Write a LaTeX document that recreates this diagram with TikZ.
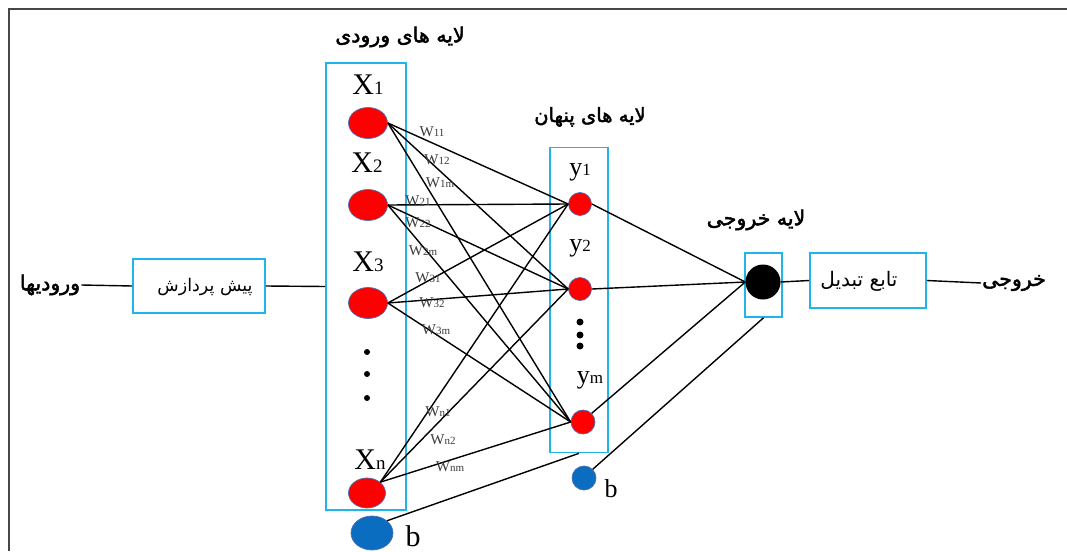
\documentclass[tikz,border=0pt]{standalone}
\usepackage{fontspec}
\setmainfont{Liberation Serif}
\newfontfamily\fa[Script=Arabic]{DejaVu Sans}
\newfontfamily\fab[Script=Arabic,FakeBold=2.2]{DejaVu Sans}
\TeXXeTstate=1
\usetikzlibrary{shapes.geometric}
\definecolor{boxcyan}{HTML}{1FB4EA}
\definecolor{nodered}{HTML}{FF0000}
\definecolor{nodeedge}{HTML}{4A6FB5}
\definecolor{biasblue}{HTML}{0A6DBF}
\definecolor{wgray}{HTML}{3C3C3C}
\begin{document}
\begin{tikzpicture}[x=1pt,y=-1pt,
  lbox/.style={draw=boxcyan, line width=1.6pt, rectangle, inner sep=0pt},
  innode/.style={ellipse, fill=nodered, draw=nodeedge, line width=0.7pt, minimum width=39pt, minimum height=31pt, inner sep=0pt},
  hidnode/.style={circle, fill=nodered, draw=nodeedge, line width=0.7pt, minimum size=23pt, inner sep=0pt},
  conn/.style={draw=black, line width=1.4pt},
  wlab/.style={text=wgray, inner sep=0pt},
  biglab/.style={inner sep=0pt},
  fahead/.style={inner sep=1pt, font=\fab\fontsize{20.5}{20.5}\selectfont},
  fatext/.style={inner sep=1pt, font=\fa\fontsize{17.5}{17.5}\selectfont},
  dotmark/.style={circle, fill=black, inner sep=0pt, minimum size=6pt}
]
\useasboundingbox (0,0) rectangle (1067,551);
\fill[white] (0,0) rectangle (1067,551);
% frame
\draw[line width=2.2pt, black!72] (9,551) -- (9,9) -- (1067,9);

% layer boxes
\node[lbox, minimum width=80pt, minimum height=447pt] (inbox) at (366,286.5) {};
\node[lbox, minimum width=58pt, minimum height=305pt] (hidbox) at (579,300) {};
\node[lbox, minimum width=37pt, minimum height=64pt] (outbox) at (763.5,285) {};
\node[lbox, minimum width=132pt, minimum height=54pt] (prebox) at (199,286) {};
\node[lbox, minimum width=116pt, minimum height=55pt] (tfbox) at (868,280.5) {};

% box texts
\node[fatext] (pretext) at (205,287) {\beginR پیش پردازش\endR};
\node[fatext, font=\fa\fontsize{20}{20}\selectfont] (tftext) at (859,281) {\beginR تابع تبدیل\endR};

% headings
\node[fahead] (hin) at (400,37) {\beginR لایه های ورودی\endR};
\node[fahead, font=\fab\fontsize{19.5}{19.5}\selectfont] (hhid) at (590,117) {\beginR لایه های پنهان\endR};
\node[fahead] (hout) at (756,220) {\beginR لایه خروجی\endR};
\node[fahead] (inlab) at (50,285) {\beginR ورودیها\endR};
\node[fahead] (outlab) at (1014,283) {\beginR خروجی\endR};

% input nodes
\node[innode] (x1) at (368,123) {};
\node[innode] (x2) at (368,205) {};
\node[innode] (x3) at (368,303) {};
\node[innode, minimum width=37pt, minimum height=30pt] (xn) at (367,493) {};
\node[ellipse, fill=biasblue, draw=nodeedge, line width=0.7pt, minimum width=42pt, minimum height=34pt, inner sep=0pt] (b1) at (372,533) {};

\node[biglab] (lx1) at (368,85) {\fontsize{30}{30}\selectfont X\fontsize{19}{19}\selectfont 1};
\node[biglab] (lx2) at (367,163) {\fontsize{30}{30}\selectfont X\fontsize{19}{19}\selectfont 2};
\node[biglab] (lx3) at (368,262) {\fontsize{30}{30}\selectfont X\fontsize{19}{19}\selectfont 3};
\node[biglab] (lxn) at (370,460) {\fontsize{30}{30}\selectfont X\fontsize{19}{19}\selectfont n};
\node[biglab, anchor=base] (lb1) at (413,546) {\fontsize{30}{30}\selectfont b};

\node[dotmark] (d1) at (367,352) {};
\node[dotmark] (d2) at (367,374) {};
\node[dotmark] (d3) at (367,398) {};

% hidden nodes
\node[hidnode] (h1) at (580,204) {};
\node[hidnode] (h2) at (580,289) {};
\node[hidnode, minimum size=24pt] (hm) at (583,422) {};
\node[circle, fill=biasblue, draw=nodeedge, line width=0.7pt, minimum size=24pt, inner sep=0pt] (b2) at (584,478) {};

\node[biglab] (ly1) at (580,172) {\fontsize{26}{26}\selectfont y\fontsize{17}{17}\selectfont 1};
\node[biglab] (ly2) at (580,248) {\fontsize{26}{26}\selectfont y\fontsize{17}{17}\selectfont 2};
\node[biglab] (lym) at (590,380) {\fontsize{26}{26}\selectfont y\fontsize{17}{17}\selectfont m};
\node[biglab] (lb2) at (611,489) {\fontsize{26}{26}\selectfont b};

\node[dotmark, minimum size=7pt] (e1) at (580,322) {};
\node[dotmark, minimum size=7pt] (e2) at (580,335) {};
\node[dotmark, minimum size=7pt] (e3) at (580,346) {};

% output node
\node[circle, fill=black, minimum size=35pt, inner sep=0pt] (out) at (763,282) {};

% connections input -> hidden
\foreach \j in {h1,h2,hm} {
  \draw[conn] (x1.east) -- (\j.west);
  \draw[conn] (x2.east) -- (\j.west);
  \draw[conn] (x3.east) -- (\j.west);
  \draw[conn] (xn.north east) -- (\j.west);
}
% hidden -> output
\draw[conn] (h1.east) -- (out.west);
\draw[conn] (h2.east) -- (out.west);
\draw[conn] (hm.north east) -- (out.west);
% biases
\draw[conn] (b1.north east) -- (hidbox.south);
\draw[conn] (b2.north east) -- (outbox.south);
% pipeline
\draw[conn] (inlab.east) -- (prebox.west);
\draw[conn] (prebox.east) -- (inbox.west);
\draw[conn] (out.east) -- (tfbox.west);
\draw[conn] (tfbox.east) -- (outlab.west);

% weight labels
\newcommand{\wl}[1]{{\fontsize{15}{15}\selectfont W}{\fontsize{11}{11}\selectfont #1}}
\node[wlab] (w11) at (432,132) {\wl{11}};
\node[wlab] (w12) at (437,160) {\wl{12}};
\node[wlab] (w1m) at (440,183) {\wl{1m}};
\node[wlab] (w21) at (418,201) {\wl{21}};
\node[wlab] (w22) at (418,223) {\wl{22}};
\node[wlab] (w2m) at (423,251) {\wl{2m}};
\node[wlab] (w31) at (428,278) {\wl{31}};
\node[wlab] (w32) at (432,303) {\wl{32}};
\node[wlab] (w3m) at (436,330) {\wl{3m}};
\node[wlab] (wn1) at (438,412) {\wl{n1}};
\node[wlab] (wn2) at (443,440) {\wl{n2}};
\node[wlab] (wnm) at (450,467) {\wl{nm}};
\end{tikzpicture}
\end{document}
